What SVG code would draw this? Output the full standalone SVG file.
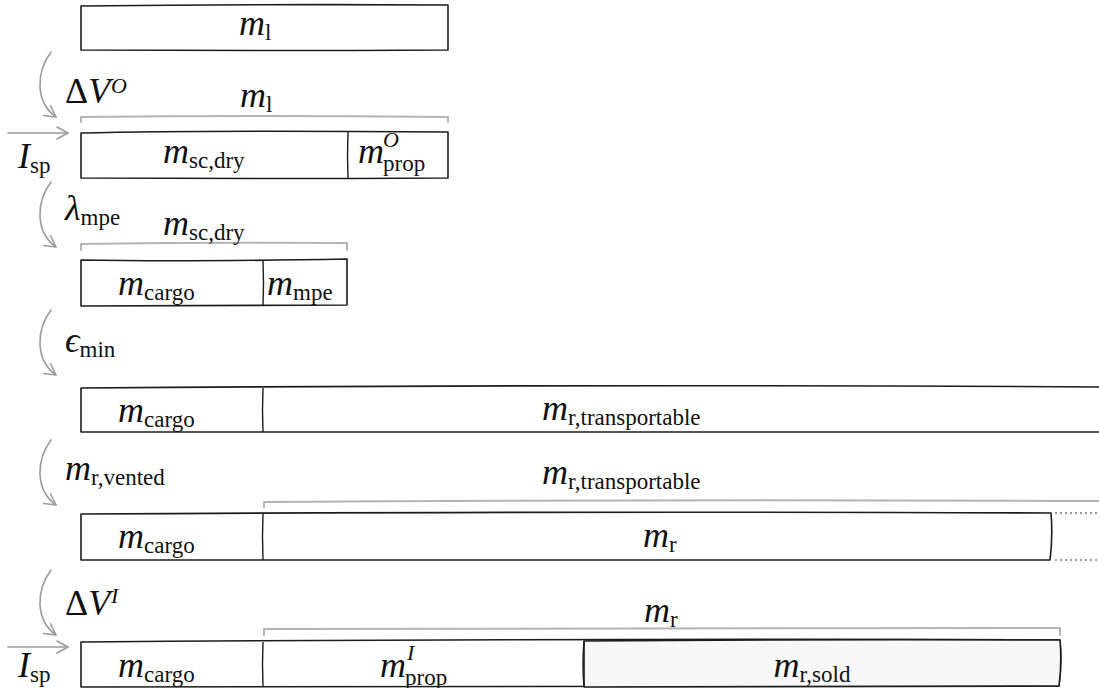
<svg xmlns="http://www.w3.org/2000/svg" width="1099" height="688" viewBox="0 0 1099 688">
  <style>
    .box { fill: #ffffff; stroke: #1c1c1c; stroke-width: 1.6; stroke-linejoin: round; }
    .sold { fill: #f7f7f7; }
    .div { fill: none; stroke: #1c1c1c; stroke-width: 1.4; }
    .dots { fill: none; stroke: #333333; stroke-width: 1.2; stroke-dasharray: 2 3; }
    .brace { fill: none; stroke: #b4b4b4; stroke-width: 2; stroke-linecap: round; stroke-linejoin: round; }
    .flow { fill: none; stroke: #9c9c9c; stroke-width: 1.6; stroke-linecap: round; }
    text, tspan { font-family: "Times New Roman", Times, Tinos, "Liberation Serif", "DejaVu Serif", "Noto Serif", Georgia, serif; fill: #111111; }
    .mi { font-style: italic; font-size: 36px; }
    .up { font-style: normal; font-size: 36px; }
    .sb { font-style: normal; font-size: 23px; }
    .sbi { font-style: italic; font-size: 22px; }
  </style>
  <defs>
    <marker id="chev" viewBox="0 0 14 14" refX="12" refY="7" markerWidth="14" markerHeight="14" markerUnits="userSpaceOnUse" orient="auto">
      <path d="M1,1 L12,7 L1,13" fill="none" stroke="#9c9c9c" stroke-width="1.6" stroke-linecap="round" stroke-linejoin="round"/>
    </marker>
  </defs>

  <!-- launch mass -->
  <g id="launch">
    <path class="box" d="M81,6 Q260,4 448,5 L448,50 Q260,51 81,50 Z"/>
    <text x="239" y="35"><tspan class="mi">m</tspan><tspan class="sb" dy="5">l</tspan></text>
  </g>

  <!-- spacecraft dry mass + outbound propellant -->
  <g id="outbound">
    <path class="box" d="M81,133 Q200,130 448,132 L448,178 Q260,179 81,178 Z"/>
    <path class="div" d="M348,132 Q347,155 348,178"/>
    <text x="163" y="163"><tspan class="mi">m</tspan><tspan class="sb" dy="5">sc,dry</tspan></text>
    <text x="358" y="163" class="mi">m</text>
    <text x="383" y="147" class="sbi">O</text>
    <text x="383" y="171" class="sb">prop</text>
  </g>

  <!-- cargo + mining/processing equipment -->
  <g id="equipment">
    <path class="box" d="M81,260 Q180,262 347,259 L347,305 Q200,306 81,306 Z"/>
    <path class="div" d="M263,260 Q264,283 263,306"/>
    <text x="118" y="295"><tspan class="mi">m</tspan><tspan class="sb" dy="5">cargo</tspan></text>
    <text x="267" y="295"><tspan class="mi">m</tspan><tspan class="sb" dy="5">mpe</tspan></text>
  </g>

  <!-- cargo + transportable resource -->
  <g id="transportable">
    <path class="box" d="M81,388 Q600,384 1102,387 L1102,432 Q600,433 81,432 Z"/>
    <path class="div" d="M263,388 Q262,410 263,432"/>
    <text x="118" y="422"><tspan class="mi">m</tspan><tspan class="sb" dy="5">cargo</tspan></text>
    <text x="542" y="420"><tspan class="mi">m</tspan><tspan class="sb" dy="5">r,transportable</tspan></text>
  </g>

  <!-- cargo + resource after venting -->
  <g id="resource">
    <path class="box" d="M81,514 Q600,511 1051,513 Q1053,536 1050,560 Q600,561 81,560 Z"/>
    <path class="div" d="M263,514 Q262,537 263,560"/>
    <path class="dots" d="M1055,513 L1099,513 M1055,560 L1099,560"/>
    <text x="118" y="548"><tspan class="mi">m</tspan><tspan class="sb" dy="5">cargo</tspan></text>
    <text x="643" y="547"><tspan class="mi">m</tspan><tspan class="sb" dy="5">r</tspan></text>
  </g>

  <!-- cargo + inbound propellant + resource sold -->
  <g id="inbound">
    <path class="box" d="M81,642 Q600,638 1060,640 Q1062,663 1059,686 Q600,687 81,687 Z"/>
    <path class="box sold" d="M584,641 Q820,639 1060,640 Q1062,663 1059,686 Q820,687 584,687 Z"/>
    <path class="div" d="M263,642 Q262,664 263,687"/>
    <path class="div" d="M584,641 Q582,664 584,687"/>
    <text x="118" y="677"><tspan class="mi">m</tspan><tspan class="sb" dy="5">cargo</tspan></text>
    <text x="380" y="677" class="mi">m</text>
    <text x="407" y="660" class="sbi">I</text>
    <text x="405" y="685" class="sb">prop</text>
    <text x="812" y="677" text-anchor="middle"><tspan class="mi">m</tspan><tspan class="sb" dy="5">r,sold</tspan></text>
  </g>

  <!-- mass brackets -->
  <g id="brackets">
    <path class="brace" d="M81,122 L81,117 Q260,115 448,117 L448,122"/>
    <text x="240" y="107"><tspan class="mi">m</tspan><tspan class="sb" dy="5">l</tspan></text>
    <path class="brace" d="M81,250 L81,244 Q200,242 347,243 L347,250"/>
    <text x="163" y="235"><tspan class="mi">m</tspan><tspan class="sb" dy="5">sc,dry</tspan></text>
    <path class="brace" d="M264,507 L264,502 Q680,499 1099,501"/>
    <text x="542" y="484"><tspan class="mi">m</tspan><tspan class="sb" dy="5">r,transportable</tspan></text>
    <path class="brace" d="M264,635 L264,629 Q660,627 1060,628 L1060,635"/>
    <text x="644" y="622"><tspan class="mi">m</tspan><tspan class="sb" dy="5">r</tspan></text>
  </g>

  <!-- step transitions -->
  <g id="connectors">
    <path class="flow" d="M51,52 C36,72 35,102 56,117" marker-end="url(#chev)"/>
    <path class="flow" d="M51,182 C36,202 35,232 56,247" marker-end="url(#chev)"/>
    <path class="flow" d="M51,310 C36,330 35,360 56,375" marker-end="url(#chev)"/>
    <path class="flow" d="M51,440 C36,460 35,490 56,505" marker-end="url(#chev)"/>
    <path class="flow" d="M51,570 C36,590 35,620 56,635" marker-end="url(#chev)"/>
    <path class="flow" d="M8,133 L68,133" marker-end="url(#chev)"/>
    <path class="flow" d="M8,647 L68,647" marker-end="url(#chev)"/>
  </g>

  <!-- transition labels -->
  <g id="step-labels">
    <text x="65" y="103"><tspan class="up">Δ</tspan><tspan class="mi">V</tspan></text>
    <text x="111" y="93" class="sbi">O</text>
    <text x="18" y="168"><tspan class="mi">I</tspan><tspan class="sb" dy="5">sp</tspan></text>
    <text x="65" y="220"><tspan class="mi">λ</tspan><tspan class="sb" dy="5">mpe</tspan></text>
    <text x="65" y="352"><tspan class="mi">ϵ</tspan><tspan class="sb" dy="5">min</tspan></text>
    <text x="65" y="480"><tspan class="mi">m</tspan><tspan class="sb" dy="5">r,vented</tspan></text>
    <text x="65" y="615"><tspan class="up">Δ</tspan><tspan class="mi">V</tspan></text>
    <text x="111" y="603" class="sbi">I</text>
    <text x="18" y="677"><tspan class="mi">I</tspan><tspan class="sb" dy="5">sp</tspan></text>
  </g>
</svg>
